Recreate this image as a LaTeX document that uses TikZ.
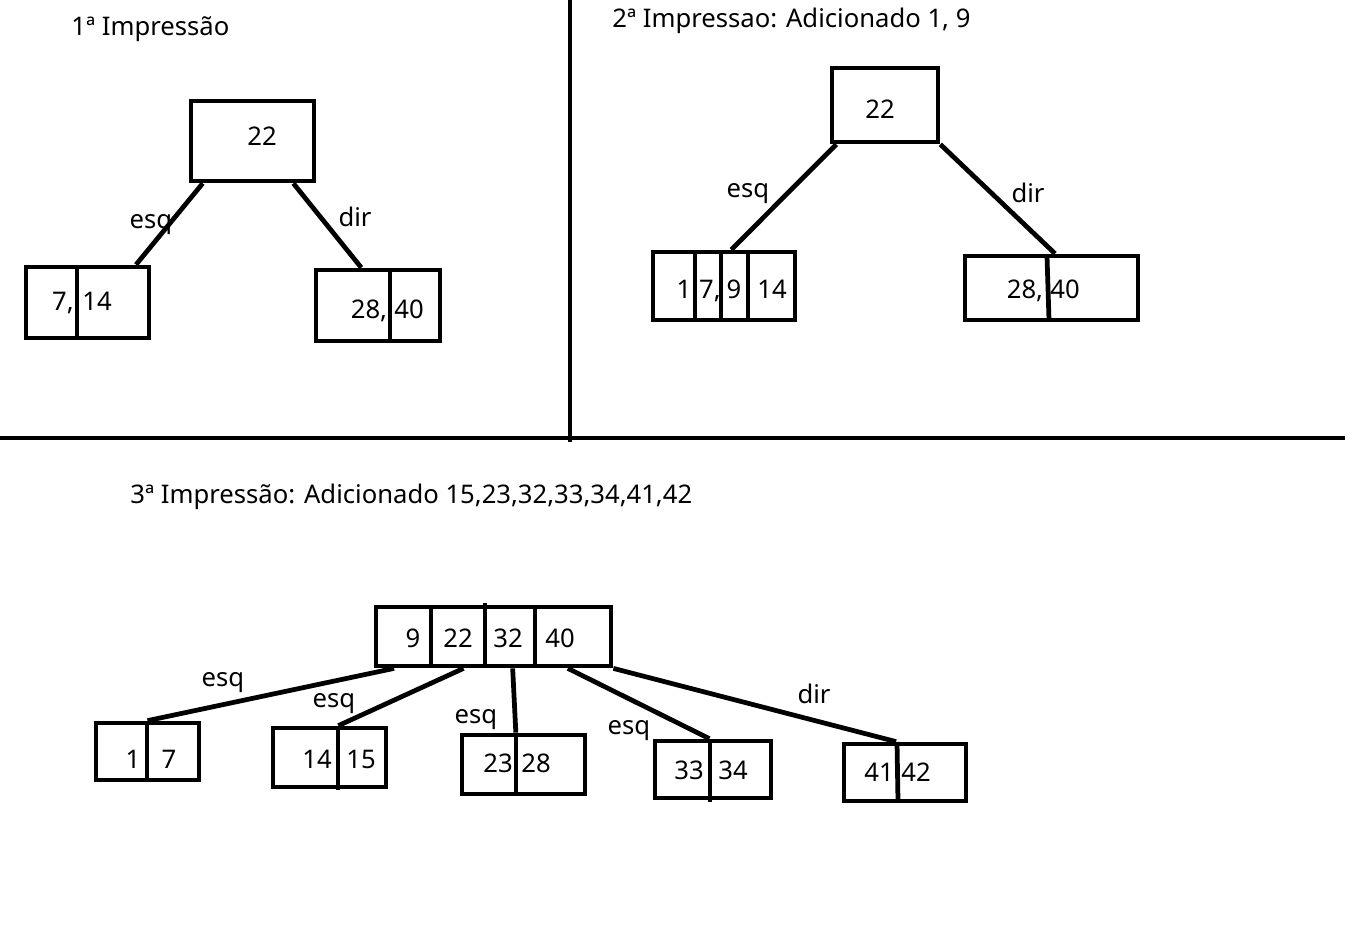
\documentclass[tikz,border=0pt]{standalone}
\usepackage{fontspec}
\setmainfont{Noto Sans}
\usetikzlibrary{calc}

\begin{document}
\begin{tikzpicture}[x=0.02cm,y=-0.02cm,
                    font=\fontsize{14.6}{17}\selectfont,
                    box/.style={draw,line width=0.095cm,inner sep=0pt},
                    bar/.style={line width=0.095cm},
                    link/.style={line width=0.095cm},
                    num/.style={anchor=base,inner sep=0pt},
                    title/.style={anchor=base west,inner sep=0pt}]

  \useasboundingbox (0,0) rectangle (1360,938);

  % quadrant borders
  \draw[bar] (570,0) -- (570,442);
  \draw[bar] (0,438) -- (1345,438);

  % 1a impressao
  \node[title] (t1) at (71,35) {1ª Impressão};

  \node[box,minimum width=2.46cm,minimum height=1.60cm] (r1) at (252.5,141) {};
  \node[num] (r1a) at (262,145) {22};

  \node[box,minimum width=2.46cm,minimum height=1.42cm] (a1) at (87.5,302.5) {};
  \node[num] (a1a) at (63,310) {7,};
  \node[num] (a1b) at (97,310) {14};
  \draw[bar] (77,267) -- (77,340);

  \node[box,minimum width=2.48cm,minimum height=1.42cm] (b1) at (378,305.5) {};
  \node[num] (b1a) at (369,318) {28,};
  \node[num] (b1b) at (409,318) {40};
  \draw[bar] (390,270) -- (390,341);

  \draw[link] ($(r1.south west)!0.11!(r1.south east)$) -- ($(a1.north west)!0.88!(a1.north east)$);
  \draw[link] ($(r1.south west)!0.82!(r1.south east)$) -- ($(b1.north west)!0.37!(b1.north east)$);
  \node[num] (l1a) at (151,228) {esq};
  \node[num] (l1b) at (355,226) {dir};

  % 2a impressao
  \node[title] (t2) at (612,27) {2ª Impressao: Adicionado 1, 9};

  \node[box,minimum width=2.12cm,minimum height=1.48cm] (r2) at (885,105) {};
  \node[num] (r2a) at (880,118) {22};

  \node[box,minimum width=2.84cm,minimum height=1.36cm] (a2) at (724,286) {};
  \node[num] (a2a) at (684,298) {1};
  \node[num] (a2b) at (710,298) {7,};
  \node[num] (a2c) at (734,298) {9};
  \node[num] (a2d) at (772,298) {14};
  \foreach \x in {695,721} \draw[bar] (\x,252) -- (\x,320);
  \draw[bar] (748,250) -- (748,322);

  \node[box,minimum width=3.46cm,minimum height=1.28cm] (b2) at (1051.5,288) {};
  \node[num] (b2a) at (1025,298) {28,};
  \node[num] (b2b) at (1065,298) {40};
  \draw[bar] (1047,256) -- (1049,320);

  \draw[link] ($(r2.south west)!0.06!(r2.south east)$) -- ($(a2.north west)!0.55!(a2.north east)$);
  \draw[link] (r2.south east) -- ($(b2.north west)!0.52!(b2.north east)$);
  \node[num] (l2a) at (748,197) {esq};
  \node[num] (l2b) at (1028,202) {dir};

  % 3a impressao
  \node[title] (t3) at (130,503) {3ª Impressão: Adicionado 15,23,32,33,34,41,42};

  \node[box,minimum width=4.70cm,minimum height=1.18cm] (r3) at (493.5,636.5) {};
  \node[num] (r3a) at (413,647) {9};
  \node[num] (r3b) at (458,647) {22};
  \node[num] (r3c) at (508,647) {32};
  \node[num] (r3d) at (560,647) {40};
  \foreach \x in {431,535} \draw[bar] (\x,607) -- (\x,666);
  \draw[bar] (485,603) -- (485,666);

  \node[box,minimum width=2.06cm,minimum height=1.14cm] (c1) at (147.5,751.5) {};
  \node[num] (c1a) at (133,768) {1};
  \node[num] (c1b) at (169,768) {7};
  \draw[bar] (147,723) -- (147,780);

  \node[box,minimum width=2.26cm,minimum height=1.18cm] (c2) at (329.5,757.5) {};
  \node[num] (c2a) at (317,768) {14};
  \node[num] (c2b) at (361,768) {15};
  \draw[bar] (338,728) -- (338,790);

  \node[box,minimum width=2.46cm,minimum height=1.18cm] (c3) at (523.5,764.5) {};
  \node[num] (c3a) at (498,772) {23};
  \node[num] (c3b) at (536,772) {28};
  \draw[bar] (516,735) -- (516,796);

  \node[box,minimum width=2.32cm,minimum height=1.14cm] (c4) at (713,769.5) {};
  \node[num] (c4a) at (689,779) {33};
  \node[num] (c4b) at (733,779) {34};
  \draw[bar] (710,741) -- (710,802);

  \node[box,minimum width=2.44cm,minimum height=1.14cm] (c5) at (905,772.5) {};
  \node[num] (c5a) at (879,781) {41};
  \node[num] (c5b) at (916,781) {42};
  \draw[bar] (897,742) -- (898,801);

  \draw[link] ($(r3.south west)!0.085!(r3.south east)$) -- ($(c1.north west)!0.5!(c1.north east)$);
  \draw[link] ($(r3.south west)!0.375!(r3.south east)$) -- ($(c2.north west)!0.575!(c2.north east)$);
  \draw[link] ($(r3.south west)!0.58!(r3.south east)$) -- ($(c3.north west)!0.44!(c3.north east)$);
  \draw[link] ($(r3.south west)!0.81!(r3.south east)$) -- ($(c4.north west)!0.47!(c4.north east)$);
  \draw[link] (r3.south east) -- ($(c5.north west)!0.43!(c5.north east)$);
  \node[num] (l3a) at (223,686) {esq};
  \node[num] (l3b) at (334,707) {esq};
  \node[num] (l3c) at (476,723) {esq};
  \node[num] (l3d) at (629,734) {esq};
  \node[num] (l3e) at (814,703) {dir};

\end{tikzpicture}
\end{document}
